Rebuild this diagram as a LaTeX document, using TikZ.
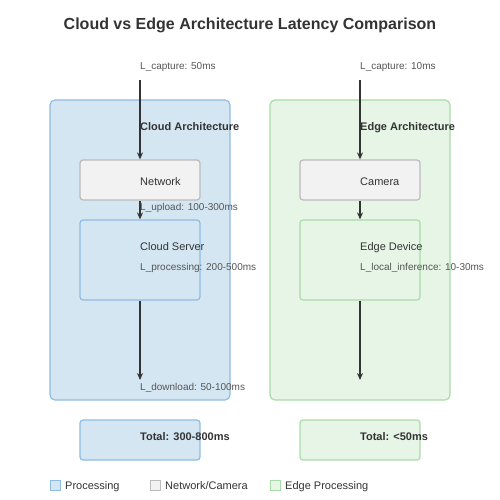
\documentclass[tikz,border=0pt]{standalone}
\usepackage{fontspec}
\setmainfont{Liberation Sans}
\usetikzlibrary{arrows.meta}
\definecolor{procfill}{HTML}{D4E6F2}
\definecolor{procline}{HTML}{8FBCE3}
\definecolor{edgefill}{HTML}{E6F5E6}
\definecolor{edgeline}{HTML}{AADCAA}
\definecolor{netfill}{HTML}{F2F2F2}
\definecolor{netline}{HTML}{BBBBBB}
\definecolor{txtdark}{HTML}{333333}
\definecolor{txtgray}{HTML}{555555}

\begin{document}
\begin{tikzpicture}[x=1pt, y=-1pt,
    box/.style={rounded corners=3pt, line width=1.2pt, inner sep=0pt, minimum width=120pt},
    proc/.style={box, fill=procfill, draw=procline},
    edgebox/.style={box, fill=edgefill, draw=edgeline},
    netbox/.style={box, fill=netfill, draw=netline},
    lbl/.style={anchor=base west, inner sep=0pt, text=txtdark, font=\fontsize{11}{13}\selectfont},
    lat/.style={anchor=base west, inner sep=0pt, text=txtgray, font=\fontsize{10}{12}\selectfont},
    flow/.style={-{Stealth[length=7pt,width=6pt]}, line width=1.3pt, draw=txtdark}]
        \useasboundingbox (0,0) rectangle (500,500);
        % title
        \node[anchor=base, inner sep=0pt, text=txtdark, font=\fontsize{16}{19}\selectfont\bfseries] (title) at (250,30) {Cloud vs Edge Architecture Latency Comparison};
        % containers
        \draw[procfill, draw=procline, fill=procfill, line width=1.2pt, rounded corners=5pt] (50,100) rectangle (230,400);
        \draw[edgefill, draw=edgeline, fill=edgefill, line width=1.2pt, rounded corners=5pt] (270,100) rectangle (450,400);
        % boxes
        \node[netbox, minimum height=40pt] (net) at (140,180) {};
        \node[proc, minimum height=80pt] (server) at (140,260) {};
        \node[proc, minimum height=40pt] (cloudtot) at (140,440) {};
        \node[netbox, minimum height=40pt] (cam) at (360,180) {};
        \node[edgebox, minimum height=80pt] (device) at (360,260) {};
        \node[edgebox, minimum height=40pt] (edgetot) at (360,440) {};
        % connectors
        \coordinate (cloudin) at (140,80);
        \coordinate (cloudout) at (140,380);
        \coordinate (edgein) at (360,80);
        \coordinate (edgeout) at (360,380);
        \draw[flow] (cloudin) -- (net.north);
        \draw[flow] (net.south) -- (server.north);
        \draw[flow] (server.south) -- (cloudout);
        \draw[flow] (edgein) -- (cam.north);
        \draw[flow] (cam.south) -- (device.north);
        \draw[flow] (device.south) -- (edgeout);
        % cloud texts
        \node[lat] (capc) at (140,70) {L\_capture: 50ms};
        \node[lbl, font=\fontsize{11}{13}\selectfont\bfseries] (cloudtitle) at (140,130) {Cloud Architecture};
        \node[lbl] (netlbl) at (140,185) {Network};
        \node[lat] (upl) at (140,210) {L\_upload: 100-300ms};
        \node[lbl] (srvlbl) at (140,250) {Cloud Server};
        \node[lat] (procl) at (140,270) {L\_processing: 200-500ms};
        \node[lat] (downl) at (140,390) {L\_download: 50-100ms};
        \node[lbl, font=\fontsize{11}{13}\selectfont\bfseries] (cloudsum) at (140,440) {Total: 300-800ms};
        % edge texts
        \node[lat] (cape) at (360,70) {L\_capture: 10ms};
        \node[lbl, font=\fontsize{11}{13}\selectfont\bfseries] (edgetitle) at (360,130) {Edge Architecture};
        \node[lbl] (camlbl) at (360,185) {Camera};
        \node[lbl] (devlbl) at (360,250) {Edge Device};
        \node[lat] (infl) at (360,270) {L\_local\_inference: 10-30ms};
        \node[lbl, font=\fontsize{11}{13}\selectfont\bfseries] (edgesum) at (360,440) {Total: <50ms};
        % legend
        \draw[fill=procfill, draw=procline, line width=1pt] (50,480) rectangle (60,490);
        \node[lbl] (legproc) at (65,489) {Processing};
        \draw[fill=netfill, draw=netline, line width=1pt] (150,480) rectangle (160,490);
        \node[lbl] (legnet) at (165,489) {Network/Camera};
        \draw[fill=edgefill, draw=edgeline, line width=1pt] (270,480) rectangle (280,490);
        \node[lbl] (legedge) at (285,489) {Edge Processing};
\end{tikzpicture}
\end{document}
